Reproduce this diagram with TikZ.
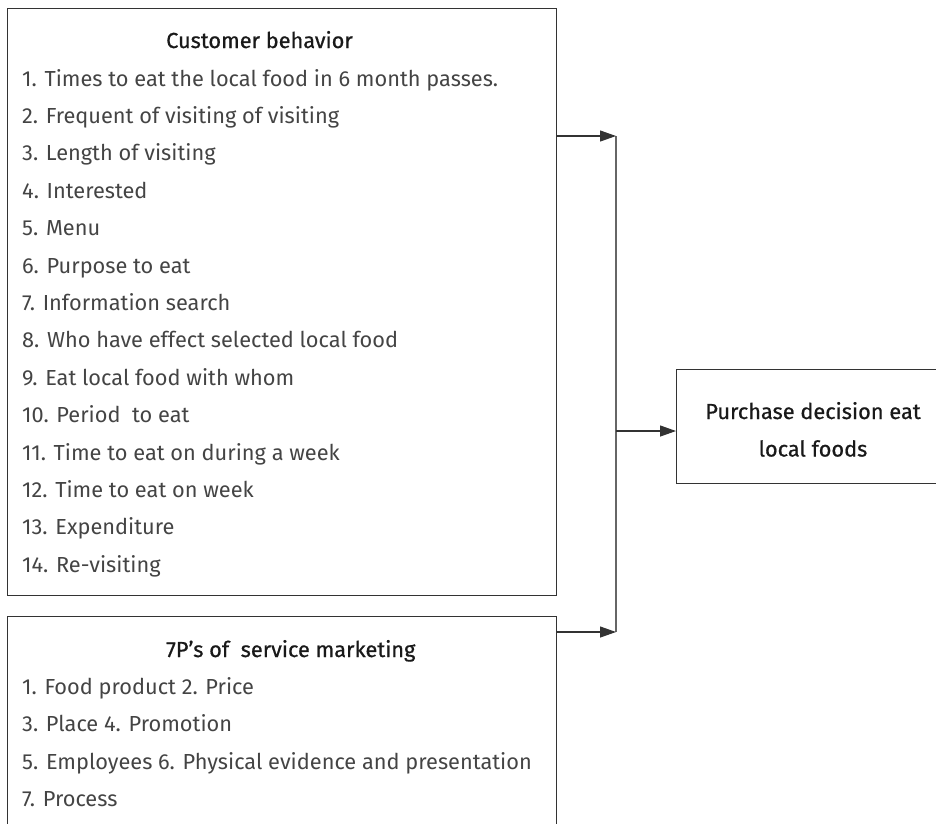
\documentclass[tikz,border=0pt]{standalone}
\usepackage{fontspec}
\setmainfont{Fira Sans}
\newfontfamily\ttlfont{Fira Sans}[FakeBold=0.7]
\usetikzlibrary{arrows.meta}
\definecolor{boxline}{HTML}{333333}
\definecolor{txt}{HTML}{444444}
\definecolor{vline}{HTML}{666666}
\newlength\refw
\begin{document}
\settowidth{\refw}{\fontsize{10pt}{12pt}\selectfont 1. Times to eat the local food in 6 month passes.}%
\pgfmathsetmacro\fs{10*476/\refw}%
\gdef\bodyfont{\fontsize{\fs pt}{\fs pt}\selectfont}%
\begin{tikzpicture}[x=1pt,y=-1pt,
  box/.style={draw=boxline,line width=1.3pt,anchor=north west,inner sep=0pt},
  item/.style={anchor=base west,inner sep=0pt,text=txt,font=\bodyfont},
  ttl/.style={anchor=base west,inner sep=0pt,text=black!90,font=\ttlfont\bodyfont},
  arr/.style={draw=boxline,line width=1.2pt,-{Triangle[length=16pt,width=11pt]}},
  conn/.style={draw=vline,line width=1.3pt}]
\clip (0,0) rectangle (936,823);
% boxes
\node[box,minimum width=549pt,minimum height=587pt] (cb) at (7,8) {};
\node[box,minimum width=549pt,minimum height=260pt] (sm) at (7,616) {};
\node[box,minimum width=270pt,minimum height=114pt] (pd) at (676,369) {};
% customer behaviour
\node[ttl] (cbt) at (166,48) {Customer behavior};
\node[item] (c1) at (22,86) {1. Times to eat the local food in 6 month passes.};
\node[item] (c2) at (22,123.4) {2. Frequent of visiting of visiting};
\node[item] (c3) at (22,160.8) {3. Length of visiting};
\node[item] (c4) at (22,198.2) {4. Interested};
\node[item] (c5) at (22,235.6) {5. Menu};
\node[item] (c6) at (22,273) {6. Purpose to eat};
\node[item] (c7) at (22,310.4) {7. Information search};
\node[item] (c8) at (22,347.8) {8. Who have effect selected local food};
\node[item] (c9) at (22,385.2) {9. Eat local food with whom};
\node[item] (c10) at (22,422.6) {10. Period\ \ to eat};
\node[item] (c11) at (22,460) {11. Time to eat on during a week};
\node[item] (c12) at (22,497.4) {12. Time to eat on week};
\node[item] (c13) at (22,534.8) {13. Expenditure};
\node[item] (c14) at (22,572.2) {14. Re-visiting};
% 7P
\node[ttl] (smt) at (166,657) {7P’s of\ \ service marketing};
\node[item] (s1) at (22,694.4) {1. Food product 2. Price};
\node[item] (s2) at (22,731.8) {3. Place 4. Promotion};
\node[item] (s3) at (22,769.2) {5. Employees 6. Physical evidence and presentation};
\node[item] (s4) at (22,806.6) {7. Process};
% purchase decision
\node[ttl,anchor=base] (pd1) at (813,419) {Purchase decision eat};
\node[ttl,anchor=base] (pd2) at (813,456.5) {local foods};
% connectors
\coordinate (j1) at (616,136);
\coordinate (j2) at (616,632);
\coordinate (j3) at (616,431);
\draw[conn] (j1) -- (j2);
\draw[arr] (cb.east |- j1) -- (j1);
\draw[arr] (sm.east |- j2) -- (j2);
\draw[arr] (j3) -- (pd.west |- j3);
\end{tikzpicture}
\end{document}
